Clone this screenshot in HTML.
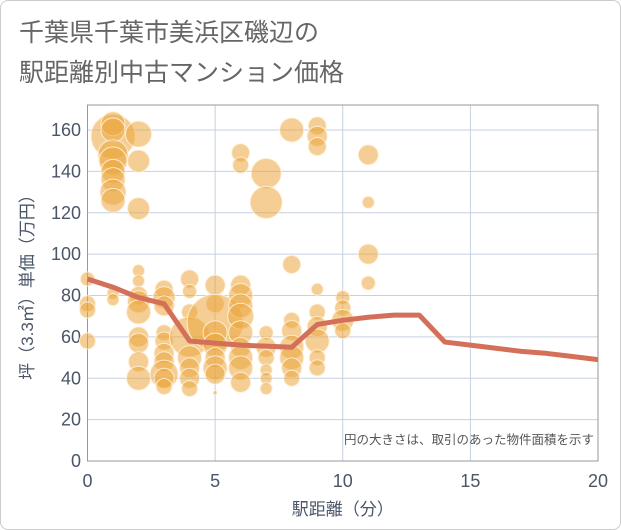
<!DOCTYPE html>
<html><head><meta charset="utf-8"><style>
html,body{margin:0;padding:0;background:#fff;}
#card{position:absolute;left:0;top:0;width:619px;height:528px;border:1px solid #ccc;border-radius:8px;background:#fff;overflow:hidden;}
.title{position:absolute;left:18px;font:25px "Liberation Sans","Noto Sans CJK JP",sans-serif;color:#666;}
text{font-family:"Liberation Sans","Noto Sans CJK JP",sans-serif;}
</style></head><body>
<div id="card">
<div class="title" style="top:12px">千葉県千葉市美浜区磯辺の</div>
<div class="title" style="top:52px">駅距離別中古マンション価格</div>
<svg id="chart" width="621" height="530" style="position:absolute;left:0;top:0"></svg>
</div>
<script>
const xTicks=[0,5,10,15,20];
const yTicks=[0,20,40,60,80,100,120,140,160];
const bubbleX=[0,0,0,0, 1,1,1,1,1,1,1,1,1,1,1, 2,2,2,2,2,2,2,2,2,2,2,2, 3,3,3,3,3,3,3,3,3,3, 4,4,4,4,4,4,4,4, 5,5,5,5,5,5,5,5,5, 6,6,6,6,6,6,6,6,6,6,6, 7,7,7,7,7,7,7,7, 8,8,8,8,8,8,8,8, 9,9,9,9,9,9,9,9,9, 10,10,10,10, 11,11,11,11];
const bubbleY=[88,76,73,58, 157,163,160,148,145,140,136,130,126,81,78, 158,145,122,92,87,80,77,72,60,57,48,40, 83,79,75,62,58,52,48,42,40,36, 88,82,72,60,50,45,40,35, 85,76,67,62,56,50,45,42,33, 149,143,85,80,75,70,62,55,50,45,38, 139,125,62,55,50,44,40,35, 160,95,68,63,55,50,45,40, 162,157,152,83,72,65,58,50,45, 79,74,68,63, 148,125,100,86];
const bubbleR=[7,8,8,8, 22,12,12,15,14,12,12,13,12,6,6, 13,11,11,6,6,9,11,12,10,10,10,12, 9,11,10,8,9,10,10,14,10,8, 9,7,8,20,12,10,10,8, 10,9,28,12,12,10,12,10,2, 9,8,10,12,12,13,12,10,12,12,10, 15,16,7,10,8,6,6,6, 12,9,8,10,12,12,10,8, 9,10,9,6,8,10,12,8,8, 7,8,11,8, 10,6,10,7];
const lineX=[0,1,2,3,4,5,6,7,8,9,10,11,12,13,14,15,16,17,18,19,20];
const lineY=[88,84,79,76,58,57,56,55.5,55,66,68,69.5,70.5,70.5,57.5,56,54.5,53,52,50.5,49];
const NS='http://www.w3.org/2000/svg';
const svg=document.getElementById('chart');
const L=86.5,R=597,T=104,B=460;
const sx=v=>L+(v-0)/20*(R-L);
const sy=v=>B-v/160*(B-129);
function mk(t,a){const e=document.createElementNS(NS,t);for(const k in a)e.setAttribute(k,a[k]);svg.appendChild(e);return e;}
xTicks.forEach(v=>{const g=mk('line',{x1:sx(v),x2:sx(v),y1:T,y2:B,stroke:'#c5d1e0','stroke-width':1});


const t=mk('text',{x:sx(v),y:486,'text-anchor':'middle','font-size':18,fill:'#4a5568'});t.textContent=v;

});
yTicks.forEach(v=>{const g=mk('line',{x1:L,x2:R,y1:sy(v),y2:sy(v),stroke:'#c5d1e0','stroke-width':1});


const t=mk('text',{x:80,y:sy(v)+6,'text-anchor':'end','font-size':18,fill:'#4a5568'});t.textContent=v;

});
const frame=mk('rect',{x:L,y:T,width:R-L,height:B-T,fill:'none',stroke:'#999','stroke-width':1});


bubbleX.forEach((x,i)=>{const c=mk('circle',{cx:sx(x),cy:sy(bubbleY[i]),r:bubbleR[i],fill:'rgba(235,165,60,0.55)',stroke:'rgba(255,240,215,0.9)','stroke-width':1});

});
const p=mk('polyline',{points:lineX.map((x,i)=>sx(x)+','+sy(lineY[i])).join(' '),fill:'none',stroke:'#d4705a','stroke-width':5,'stroke-linejoin':'round'});


const n=mk('text',{x:593,y:443,'text-anchor':'end','font-size':12.5,fill:'#555'});n.textContent='円の大きさは、取引のあった物件面積を示す';


const xt=mk('text',{x:sx(10),y:514,'text-anchor':'middle','font-size':17,fill:'#4a5568'});xt.textContent='駅距離（分）';


const yt=mk('text',{x:0,y:0,'text-anchor':'middle','font-size':17,fill:'#4a5568',transform:'translate(32,282) rotate(-90)'});yt.textContent='坪（3.3㎡）単価（万円）';


</script>
</body></html>
